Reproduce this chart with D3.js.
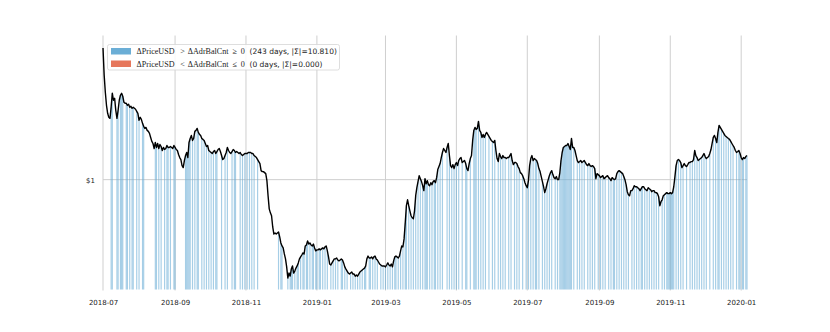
<!DOCTYPE html>
<html><head><meta charset="utf-8">
<script src="https://cdn.jsdelivr.net/npm/d3@7"></script>
<style>body{margin:0;background:#fff}svg{display:block}</style>
</head><body>
<svg id="chart" width="830" height="332"></svg>
<script>
const startDate = "2018-07-01";
// daily close price (USD), starting at startDate
const prices = [
3.868,2.927,2.455,2.147,1.977,1.897,1.877,
2.103,2.430,2.261,2.308,2.039,1.877,2.039,
2.261,2.380,2.430,2.356,2.215,2.192,2.192,
2.147,2.170,2.103,2.125,2.082,2.103,2.082,
2.061,2.018,1.977,1.839,1.897,1.858,1.783,
1.729,1.693,1.711,1.659,1.642,1.608,1.543,
1.481,1.450,1.377,1.465,1.392,1.450,1.377,
1.435,1.406,1.349,1.392,1.363,1.377,1.420,
1.392,1.392,1.406,1.392,1.377,1.420,1.392,
1.363,1.349,1.295,1.255,1.229,1.155,1.132,
1.217,1.281,1.322,1.255,1.465,1.527,1.575,
1.496,1.527,1.642,1.659,1.693,1.625,1.592,
1.575,1.527,1.512,1.496,1.450,1.406,1.420,
1.349,1.335,1.322,1.308,1.335,1.349,1.308,
1.335,1.363,1.377,1.335,1.281,1.229,1.242,
1.281,1.322,1.392,1.349,1.322,1.308,1.335,
1.363,1.349,1.322,1.335,1.322,1.308,1.322,
1.295,1.281,1.295,1.308,1.308,1.308,1.322,
1.322,1.322,1.308,1.308,1.281,1.268,1.255,
1.229,1.204,1.180,1.097,1.086,1.086,1.075,
1.064,0.990,0.848,0.741,0.711,0.690,0.615,
0.572,0.578,0.572,0.578,0.584,0.555,0.522,
0.506,0.496,0.466,0.443,0.408,0.364,0.383,
0.371,0.399,0.412,0.383,0.391,0.403,0.412,
0.425,0.443,0.452,0.461,0.471,0.466,0.506,
0.511,0.533,0.516,0.522,0.511,0.506,0.516,
0.496,0.481,0.486,0.486,0.491,0.486,0.491,
0.496,0.491,0.501,0.506,0.481,0.452,0.420,
0.416,0.425,0.434,0.443,0.443,0.447,0.438,
0.434,0.438,0.443,0.438,0.425,0.408,0.399,
0.391,0.383,0.379,0.383,0.387,0.379,0.379,
0.371,0.375,0.371,0.379,0.387,0.391,0.395,
0.399,0.403,0.412,0.443,0.456,0.447,0.447,
0.452,0.443,0.452,0.456,0.443,0.438,0.429,
0.420,0.416,0.412,0.412,0.412,0.408,0.416,
0.425,0.416,0.412,0.420,0.408,0.434,0.452,
0.456,0.452,0.447,0.456,0.481,0.506,0.501,
0.544,0.641,0.765,0.813,0.765,0.726,0.690,
0.676,0.669,0.726,0.848,0.921,0.980,1.042,
1.010,0.980,0.940,0.893,1.010,0.959,0.990,
0.950,0.940,0.969,0.950,0.980,0.990,0.969,
1.021,1.109,1.144,1.180,1.255,1.322,1.377,
1.349,1.322,1.392,1.450,1.281,1.155,1.132,
1.167,1.120,1.167,1.192,1.155,1.217,1.242,
1.255,1.192,1.204,1.217,1.180,1.120,1.097,
1.180,1.242,1.281,1.496,1.659,1.711,1.676,
1.693,1.820,1.659,1.625,1.543,1.592,1.543,
1.592,1.625,1.592,1.559,1.527,1.496,1.481,
1.465,1.496,1.349,1.242,1.204,1.308,1.268,
1.242,1.281,1.255,1.255,1.242,1.255,1.255,
1.281,1.308,1.217,1.167,1.192,1.192,1.180,
1.144,1.120,1.075,1.064,1.042,1.010,0.969,
0.940,0.921,0.990,1.155,1.242,1.281,1.217,
1.242,1.229,1.217,1.180,1.120,1.086,1.032,
0.980,0.930,0.875,0.911,0.959,1.000,1.042,
1.075,1.097,1.053,1.021,1.010,1.032,1.000,
1.000,1.075,1.217,1.322,1.392,1.406,1.420,
1.420,1.450,1.406,1.363,1.527,1.392,1.392,
1.349,1.281,1.217,1.192,1.204,1.217,1.192,
1.204,1.217,1.192,1.167,1.155,1.180,1.155,
1.144,1.155,1.144,1.120,1.010,1.064,1.053,
1.042,1.021,1.032,1.042,1.010,1.021,1.032,
1.042,1.021,1.010,0.990,1.021,1.010,1.000,
1.010,1.064,1.086,1.097,1.086,1.075,1.064,
1.032,1.000,0.950,0.884,0.857,0.848,0.893,
0.893,0.911,0.940,0.930,0.930,0.921,0.911,
0.893,0.911,0.930,0.930,0.911,0.902,0.893,
0.921,0.911,0.902,0.884,0.893,0.893,0.875,
0.875,0.866,0.839,0.765,0.797,0.813,0.848,
0.857,0.866,0.875,0.866,0.866,0.875,0.866,
0.875,0.930,1.032,1.155,1.217,1.229,1.217,
1.192,1.132,1.155,1.180,1.155,1.144,1.167,
1.192,1.192,1.204,1.204,1.229,1.349,1.281,
1.255,1.217,1.229,1.242,1.255,1.281,1.308,
1.268,1.242,1.255,1.268,1.308,1.363,1.450,
1.543,1.575,1.527,1.465,1.625,1.746,1.711,
1.676,1.642,1.608,1.575,1.559,1.543,1.527,
1.512,1.481,1.450,1.420,1.392,1.349,1.322,
1.335,1.349,1.308,1.255,1.229,1.255,1.242,
1.268,1.281
];
// day indices (from startDate) where ΔPriceUSD > ΔAdrBalCnt ≥ 0
const upDays = [
7,8,12,13,15,16,17,20,21,23,25,26,29,31,34,35,45,46,48,50,53,55,56,58,61,62,71,72,73,74,75,77,79,81,82,85,87,89,91,
93,95,97,98,102,105,107,111,113,114,118,120,122,124,126,128,130,133,151,153,154,159,161,162,163,165,167,168,170,172,173,175,176,178,180,181,183,
184,186,187,189,191,193,196,198,200,202,205,206,208,210,213,215,217,219,221,223,225,226,229,230,232,234,236,239,241,243,245,247,249,251,252,254,256,258,260,261,263,265,267,269,271,273,275,277,
278,279,281,283,285,286,288,290,292,296,298,300,302,304,306,309,312,313,316,319,320,321,323,325,327,329,332,335,337,340,342,344,346,349,351,354,356,358,361,364,366,368,370,
372,373,375,378,380,382,384,386,389,391,393,394,395,396,397,398,399,400,401,402,403,405,408,410,412,414,417,419,421,423,426,428,430,432,435,437,439,440,442,444,446,448,450,452,455,457,459,461,463,
464,466,468,470,472,474,476,478,481,483,485,486,487,488,489,490,491,493,495,497,499,502,505,507,509,511,513,515,517,519,522,525,527,529,530,532,534,536,538,540,542,545,547,548,550,551,553,554
];
// day indices where ΔPriceUSD < ΔAdrBalCnt ≤ 0
const downDays = [];
const xTickLabels = ["2018-07","2018-09","2018-11","2019-01","2019-03","2019-05","2019-07","2019-09","2019-11","2020-01"];
const yTickValues = [1];
const yTickLabels = ["$1"];
const legendMath = [["ΔPriceUSD", ">", "ΔAdrBalCnt", "≥", "0"], ["ΔPriceUSD", "<", "ΔAdrBalCnt", "≤", "0"]];
const legendRest = ["(243 days, |Σ|=10.810)", "(0 days, |Σ|=0.000)"];
const colors = ["#6baed6", "#e6775c"];

const svg = d3.select("#chart");
const L = 103, R = 747, T = 36.5, B = 289.5;
const t0 = new Date(startDate + "T00:00:00Z");
const dayMs = 86400000;
const dates = prices.map((p, i) => new Date(t0.getTime() + i * dayMs));
const x = d3.scaleUtc().domain([dates[0], dates[dates.length - 1]]).range([L, R]);
const lmin = Math.log10(d3.min(prices)), lmax = Math.log10(d3.max(prices));
const pad = (lmax - lmin) * 0.05;
const y = d3.scaleLog().domain([Math.pow(10, lmin - pad), Math.pow(10, lmax + pad)]).range([B, T]);

// grid
const tickDates = xTickLabels.map(s => new Date(s + "-01T00:00:00Z"));
svg.append("g").selectAll("line").data(tickDates).join("line")
  .attr("x1", d => x(d)).attr("x2", d => x(d)).attr("y1", T - 1).attr("y2", B + 1)
  .attr("stroke", "#cfcfcf").attr("stroke-width", 1);
svg.append("g").selectAll("line").data(yTickValues).join("line")
  .attr("x1", L).attr("x2", R).attr("y1", d => y(d)).attr("y2", d => y(d))
  .attr("stroke", "#cfcfcf").attr("stroke-width", 1);

// bars
const bw = x(new Date(t0.getTime() + dayMs)) - x(t0);
function drawBars(days, color) {
  svg.append("g").selectAll("rect").data(days).join("rect")
    .attr("x", d => x(dates[d]) - bw / 2).attr("width", bw)
    .attr("y", d => y(prices[d])).attr("height", d => B - y(prices[d]))
    .attr("fill", color).attr("fill-opacity", 0.6);
}
drawBars(upDays, colors[0]);
drawBars(downDays, colors[1]);

// price line
svg.append("path").datum(prices)
  .attr("d", d3.line().x((d, i) => x(dates[i])).y(d => y(d)))
  .attr("fill", "none").attr("stroke", "#000").attr("stroke-width", 1.4)
  .attr("stroke-linejoin", "round");

// axes labels
const xAxis = d3.axisBottom(x).tickValues(tickDates).tickFormat((d, i) => xTickLabels[i]).tickSize(0).tickPadding(0);
const gx = svg.append("g").attr("transform", `translate(0,${B})`).call(xAxis);
gx.select(".domain").remove();
gx.selectAll("text").attr("y", 15.5).attr("dy", 0)
  .attr("font-family", "DejaVu Sans").attr("font-size", 7).attr("fill", "#222");
const yAxis = d3.axisLeft(y).tickValues(yTickValues).tickFormat((d, i) => yTickLabels[i]).tickSize(0).tickPadding(0);
const gy = svg.append("g").attr("transform", `translate(${L},0)`).call(yAxis);
gy.select(".domain").remove();
gy.selectAll("text").attr("x", -8).attr("dy", "0.35em")
  .attr("font-family", "DejaVu Sans").attr("font-size", 7).attr("fill", "#222");

// legend
const lg = svg.append("g");
lg.append("rect").attr("x", 107.5).attr("y", 44.5).attr("width", 232).attr("height", 25.5)
  .attr("rx", 2).attr("fill", "#fff").attr("fill-opacity", 0.85).attr("stroke", "#d6d6d6").attr("stroke-width", 0.8);
const pieceX = [136.5, 180.2, 187.8, 232.5, 240.8];
legendMath.forEach((parts, i) => {
  const yy = 48 + i * 12.5;
  lg.append("rect").attr("x", 111).attr("y", yy).attr("width", 20).attr("height", 6.5).attr("fill", colors[i]);
  parts.forEach((p, j) => {
    lg.append("text").attr("x", pieceX[j]).attr("y", yy + 6.3)
      .attr("font-family", "Liberation Serif").attr("font-size", 8.1).attr("fill", "#222").text(p);
  });
  lg.append("text").attr("x", 249.5).attr("y", yy + 6.3)
    .attr("font-family", "DejaVu Sans").attr("font-size", 7.5).attr("fill", "#222").text(legendRest[i]);
});
</script>
</body></html>
